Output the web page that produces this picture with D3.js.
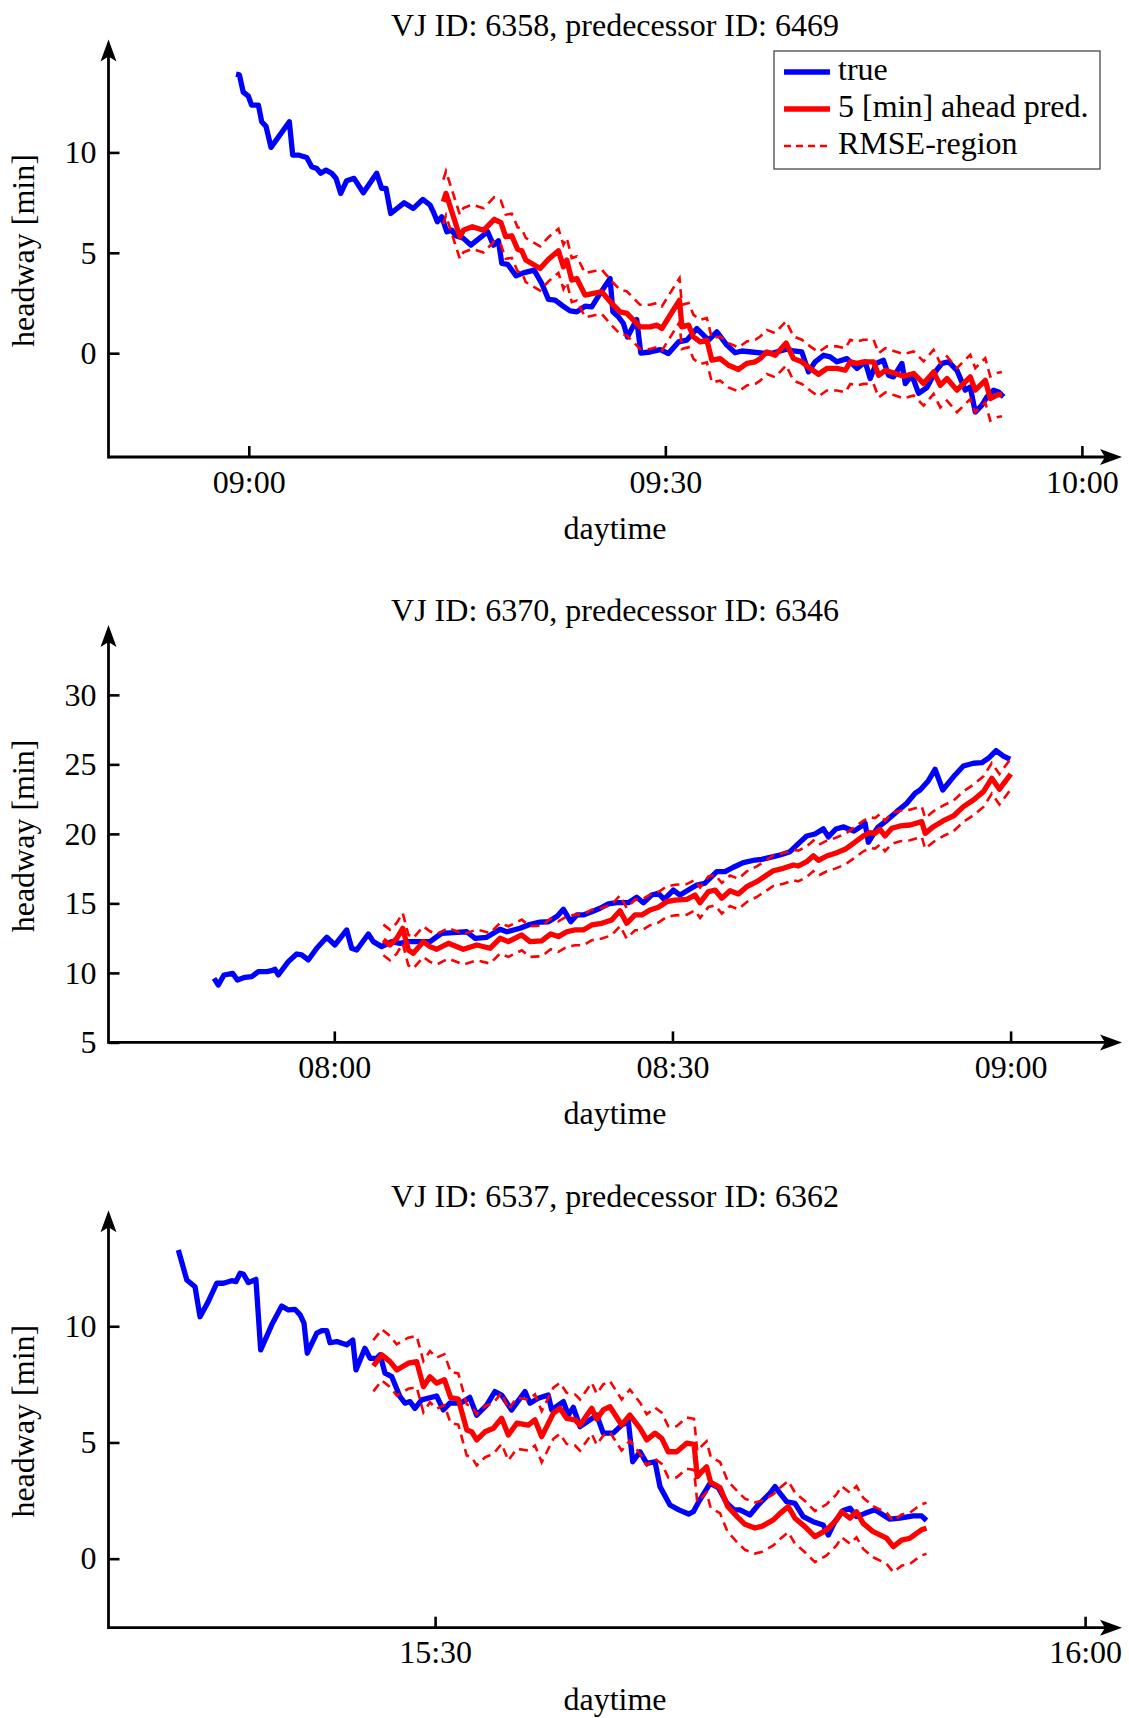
<!DOCTYPE html>
<html><head><meta charset="utf-8">
<script src="https://cdn.jsdelivr.net/npm/d3@7"></script>
<style>
body{margin:0;background:#fff;}
svg{display:block;}
text{font-family:"Liberation Serif","Times New Roman",serif;fill:#000;}
</style></head><body>
<svg id="c" width="1129" height="1718"></svg>
<script>
// ---------------- DATA ----------------
// times are minutes after the panel's base clock time; values are headway in minutes
const titles = ["VJ ID: 6358, predecessor ID: 6469","VJ ID: 6370, predecessor ID: 6346","VJ ID: 6537, predecessor ID: 6362"];
const baseTimes = ["09:00","08:00","15:30"];
const xTickLabels1 = ["09:00","09:30","10:00"];
const xTickLabels2 = ["08:00","08:30","09:00"];
const xTickLabels3 = ["15:30","16:00"];
const yTicks1 = [0,5,10];
const yTicks2 = [5,10,15,20,25,30];
const yTicks3 = [0,5,10];
const rmse = [1.1, 1.1, 1.1];
const legendLabels = ["true","5 [min] ahead pred.","RMSE-region"];
const xLabel = "daytime";
const yLabel = "headway [min]";

const true1 = [[-0.92,13.9],[-0.68,13.86],[-0.4,13.0],[-0.03,12.8],[0.2,12.36],[0.69,12.36],[0.93,11.53],[1.24,11.3],[1.6,10.25],[2.92,11.53],[3.16,9.87],[3.57,9.87],[4.17,9.75],[4.53,9.29],[4.89,9.2],[5.18,8.96],[5.56,9.12],[5.97,8.96],[6.28,8.71],[6.62,7.96],[7.05,8.59],[7.58,8.71],[8.25,7.99],[9.21,8.96],[9.57,8.21],[9.88,8.21],[10.22,6.96],[11.18,7.49],[11.85,7.21],[12.53,7.66],[13.05,7.38],[13.29,7.04],[13.58,6.55],[13.9,6.79],[14.26,6.05],[14.62,6.13],[14.9,5.85],[15.46,5.72],[15.99,5.38],[17.2,6.05],[17.62,5.38],[17.98,5.6],[18.22,4.47],[18.64,4.43],[19.25,3.85],[19.78,4.0],[20.55,4.14],[21.1,3.47],[21.58,2.68],[22.06,2.64],[22.54,2.39],[23.14,2.11],[23.62,2.06],[24.22,2.34],[24.7,2.31],[25.3,2.98],[26.02,3.72],[26.22,2.06],[26.62,1.81],[26.98,1.48],[27.27,0.81],[27.94,1.68],[28.23,0.01],[28.9,0.06],[29.63,0.18],[30.22,-0.02],[30.95,0.56],[31.55,0.65],[32.27,1.23],[33.11,0.65],[33.71,1.06],[34.43,0.4],[35.03,0.02],[35.51,0.11],[36.23,0.06],[37.0,0.0],[37.79,0.02],[38.75,0.2],[39.23,0.11],[39.83,0.06],[40.31,-0.93],[40.79,-0.43],[41.39,-0.1],[41.87,-0.18],[42.36,-0.43],[43.08,-0.27],[43.8,-0.76],[44.39,-0.43],[44.75,-1.26],[45.19,-0.51],[45.71,-0.35],[46.07,-1.1],[46.43,-1.18],[47.04,-0.51],[47.28,-1.51],[47.76,-1.1],[48.24,-2.0],[48.84,-1.71],[49.44,-0.93],[49.92,-0.51],[50.4,-0.43],[51.0,-0.85],[51.6,-1.84],[51.96,-1.68],[52.32,-2.93],[52.8,-2.59],[53.16,-2.18],[53.64,-1.84],[54.0,-1.93],[54.36,-2.18]];
const pred1 = [[14.01,7.54],[14.2,7.96],[15.2,5.8],[15.46,6.13],[16.1,6.3],[16.9,6.12],[17.68,6.67],[18.16,6.5],[18.5,5.8],[18.94,5.85],[19.36,5.18],[19.66,5.1],[19.95,4.64],[20.98,4.22],[21.58,4.68],[22.3,5.1],[22.66,4.3],[22.9,4.64],[23.26,3.64],[23.62,3.72],[24.22,2.89],[24.82,2.98],[25.42,3.06],[26.14,2.48],[26.74,2.06],[27.23,1.98],[28.18,1.31],[28.9,1.31],[29.39,1.4],[29.75,1.23],[30.34,1.89],[31.02,2.64],[31.19,1.31],[31.67,1.4],[32.03,0.81],[32.51,0.56],[32.99,0.65],[33.35,-0.35],[33.95,-0.27],[34.55,-0.6],[35.27,-0.81],[35.87,-0.51],[36.47,-0.43],[36.83,-0.27],[37.31,0.06],[37.91,-0.1],[38.7,0.5],[39.23,-0.27],[39.83,-0.43],[40.43,-0.76],[41.03,-1.05],[41.63,-0.76],[42.36,-0.76],[42.96,-0.85],[43.32,-0.43],[43.8,-0.51],[44.28,-0.43],[45.0,-0.43],[45.36,-1.1],[45.84,-0.85],[46.56,-1.01],[47.16,-1.15],[47.88,-1.01],[48.6,-1.51],[49.32,-0.93],[49.8,-1.6],[50.28,-1.26],[51.0,-1.84],[51.96,-1.18],[52.32,-1.84],[53.04,-1.35],[53.4,-2.26],[53.88,-2.09],[54.24,-2.04]];

const true2 = [[-10.67,9.61],[-10.29,9.13],[-9.79,9.85],[-9.02,9.97],[-8.6,9.49],[-7.92,9.68],[-7.33,9.73],[-6.74,10.09],[-6.0,10.09],[-5.56,10.16],[-5.26,10.26],[-4.97,9.85],[-4.08,10.81],[-3.34,11.36],[-2.89,11.29],[-2.31,10.93],[-1.56,11.77],[-0.67,12.56],[0.06,12.01],[1.1,13.09],[1.54,11.77],[1.99,11.65],[3.02,12.8],[3.46,12.25],[4.2,11.89],[5.09,12.25],[5.83,12.13],[6.57,12.25],[7.45,12.25],[8.49,12.25],[9.53,12.85],[10.56,12.89],[11.75,12.96],[12.48,12.49],[13.52,12.56],[14.7,13.14],[15.3,12.96],[16.48,13.21],[17.21,13.45],[18.25,13.65],[19.0,13.68],[19.8,14.1],[20.32,14.58],[20.98,13.68],[21.51,14.17],[22.09,14.17],[22.84,14.4],[23.58,14.65],[24.31,14.96],[25.06,15.05],[26.09,15.05],[26.83,15.44],[27.42,15.05],[28.16,15.6],[28.75,15.73],[29.26,15.29],[30.08,15.96],[30.67,15.6],[31.41,15.96],[32.16,16.32],[32.89,16.45],[33.93,17.28],[34.67,17.28],[35.4,17.6],[36.29,17.93],[37.33,18.12],[37.92,18.17],[38.95,18.36],[39.55,18.48],[40.43,18.72],[41.17,19.3],[41.91,19.85],[42.65,19.99],[43.39,20.36],[43.83,19.78],[44.5,20.35],[45.2,20.5],[46.1,20.2],[46.7,20.52],[47.09,20.76],[47.38,19.4],[48.2,20.45],[49.1,21.03],[49.9,21.6],[50.79,22.2],[51.53,22.92],[51.97,23.16],[52.71,23.83],[53.3,24.65],[53.98,23.16],[55.07,24.24],[55.81,24.88],[56.7,25.08],[57.44,25.12],[58.03,25.44],[58.71,25.99],[59.36,25.6],[59.96,25.37]];
const pred2 = [[4.35,12.37],[4.94,12.01],[5.54,12.49],[6.07,13.21],[6.57,11.65],[7.01,11.41],[7.9,12.25],[8.49,11.89],[9.08,11.7],[10.12,12.13],[11.45,11.7],[12.64,12.01],[13.82,11.77],[14.7,12.49],[15.44,12.25],[16.63,12.73],[17.36,12.25],[18.4,12.3],[19.2,12.8],[19.88,12.61],[20.62,12.96],[21.36,13.09],[22.09,13.09],[22.84,13.45],[23.73,13.57],[24.61,13.81],[25.35,14.47],[25.94,13.57],[26.68,14.17],[27.28,14.17],[28.01,14.53],[28.75,14.72],[29.49,15.12],[30.23,15.24],[31.27,15.29],[32.0,15.6],[32.45,15.05],[33.19,15.84],[33.78,15.96],[34.38,15.37],[35.11,15.91],[35.85,15.68],[36.59,16.2],[37.48,16.56],[38.37,17.04],[38.95,17.35],[39.84,17.52],[40.73,17.76],[41.17,17.69],[41.91,18.0],[42.5,18.42],[42.95,18.1],[43.69,18.41],[44.43,18.6],[45.31,18.89],[46.05,19.32],[46.94,19.85],[47.53,20.09],[47.97,20.04],[48.41,20.33],[48.86,19.85],[49.46,20.4],[50.2,20.57],[51.08,20.64],[52.12,20.88],[52.42,20.04],[53.15,20.52],[54.04,20.95],[54.93,21.29],[55.81,21.96],[56.7,22.44],[57.59,23.04],[58.33,24.0],[59.01,23.21],[59.51,23.76],[60.02,24.31]];

const true3 = [[-11.85,13.28],[-11.46,11.99],[-11.08,11.7],[-10.85,10.41],[-10.47,11.06],[-10.08,11.85],[-9.77,11.85],[-9.39,11.96],[-9.19,11.92],[-9.0,12.28],[-8.85,12.25],[-8.62,11.88],[-8.27,12.02],[-8.05,8.98],[-7.54,10.06],[-7.08,10.87],[-6.77,10.7],[-6.47,10.73],[-6.23,10.49],[-6.05,10.13],[-5.9,8.84],[-5.46,9.7],[-5.23,9.81],[-5.0,9.81],[-4.85,9.29],[-4.54,9.34],[-4.08,9.2],[-3.8,9.41],[-3.65,8.12],[-3.24,9.05],[-3.0,8.62],[-2.7,8.62],[-2.54,8.77],[-2.31,7.98],[-2.0,7.83],[-1.62,6.97],[-1.39,6.69],[-1.16,6.76],[-0.93,6.47],[-0.62,6.83],[0.07,7.0],[0.38,6.4],[0.69,6.7],[1.15,6.68],[1.6,6.94],[1.92,6.17],[2.38,6.61],[2.76,7.19],[3.07,7.04],[3.53,6.4],[4.15,7.19],[4.38,6.69],[4.76,6.9],[5.22,7.04],[5.38,6.4],[5.92,6.76],[6.15,6.18],[6.38,6.51],[6.69,5.68],[7.15,5.97],[7.46,6.18],[7.76,5.4],[8.22,5.4],[8.61,5.75],[8.92,5.9],[9.12,4.17],[9.46,4.6],[9.77,4.1],[10.15,4.17],[10.38,3.1],[10.84,2.31],[11.25,2.1],[11.7,1.92],[11.92,2.02],[12.2,2.5],[12.69,3.24],[13.07,3.06],[13.46,2.4],[13.8,2.1],[14.07,2.1],[14.53,1.88],[14.95,2.35],[15.45,2.81],[15.69,3.1],[15.92,2.81],[16.23,2.45],[16.61,2.38],[16.99,1.81],[17.45,1.59],[17.91,1.45],[18.15,1.02],[18.45,1.59],[18.84,2.07],[19.15,2.17],[19.45,1.81],[19.84,1.95],[20.3,2.1],[20.99,1.7],[21.45,1.74],[22.07,1.84],[22.45,1.84],[22.68,1.64]];
const pred3 = [[-2.85,8.3],[-2.46,8.77],[-2.08,8.48],[-1.77,8.12],[-1.24,8.41],[-0.85,8.48],[-0.54,7.4],[-0.24,7.83],[0.07,7.55],[0.43,7.7],[0.72,6.93],[1.07,6.87],[1.46,5.54],[1.69,5.46],[1.92,5.11],[2.3,5.46],[2.69,5.61],[3.07,6.04],[3.38,5.32],[3.77,5.83],[4.3,5.75],[4.61,5.97],[4.92,5.25],[5.46,6.26],[5.76,6.47],[6.07,6.04],[6.46,5.97],[6.69,5.75],[7.23,6.47],[7.46,6.0],[7.76,6.4],[8.07,6.54],[8.61,5.75],[8.99,6.18],[9.46,5.61],[9.77,5.11],[10.15,5.4],[10.46,5.18],[10.76,4.6],[11.15,4.6],[11.61,4.97],[11.95,4.92],[12.1,3.53],[12.3,3.74],[12.53,3.95],[12.72,3.28],[13.15,3.06],[13.5,2.25],[13.95,1.8],[14.3,1.48],[14.76,1.32],[15.1,1.4],[15.61,1.67],[15.92,1.95],[16.3,2.24],[16.61,1.74],[17.07,1.38],[17.53,0.95],[18.07,1.24],[18.53,1.67],[18.76,2.02],[19.15,1.74],[19.45,2.02],[19.76,1.52],[20.22,1.16],[20.84,0.88],[21.15,0.52],[21.53,0.8],[21.92,0.88],[22.22,1.09],[22.45,1.24],[22.68,1.31]];

// ---------------- LAYOUT ----------------
const W = 1129, FONT = 32;
const panels = [
  {title:titles[0], base:baseTimes[0], xt:xTickLabels1, yt:yTicks1, tr:true1, pr:pred1, rm:rmse[0],
   off:0, xr:[248.8,1081.9], yd:[-5.17,15.40], legend:true},
  {title:titles[1], base:baseTimes[1], xt:xTickLabels2, yt:yTicks2, tr:true2, pr:pred2, rm:rmse[1],
   off:585.4, xr:[334.3,1010.6], yd:[5,34.71], legend:false},
  {title:titles[2], base:baseTimes[2], xt:xTickLabels3, yt:yTicks3, tr:true3, pr:pred3, rm:rmse[2],
   off:1170.7, xr:[435.1,1085.1], yd:[-2.97,14.80], legend:false}
];
const AX0 = 108.5, AXEND = 1122, BOT = 457, TOP = 39.5, PLOTTOP = 44;

const parseT = d3.timeParse("%H:%M");
const svg = d3.select("#c");
svg.append("rect").attr("width",W).attr("height",1718).attr("fill","#fff");

panels.forEach(p => {
  const g = svg.append("g").attr("transform",`translate(0,${p.off})`);
  const base = parseT(p.base);
  const tickDates = p.xt.map(parseT);
  const toDate = m => new Date(base.getTime() + m*60000);
  const x = d3.scaleTime().domain([tickDates[0], tickDates[tickDates.length-1]]).range(p.xr);
  const y = d3.scaleLinear().domain(p.yd).range([BOT, PLOTTOP]);

  // title
  g.append("text").attr("x",615).attr("y",36).attr("text-anchor","middle")
    .attr("font-size",FONT).text(p.title);

  // axes
  const xa = g.append("g").attr("transform",`translate(0,${BOT})`)
    .call(d3.axisBottom(x).tickValues(tickDates).tickFormat(d3.timeFormat("%H:%M"))
      .tickSizeInner(-11).tickSizeOuter(0).tickPadding(13));
  const ya = g.append("g").attr("transform",`translate(${AX0},0)`)
    .call(d3.axisLeft(y).tickValues(p.yt).tickFormat(d3.format("d"))
      .tickSizeInner(-11).tickSizeOuter(0).tickPadding(12));
  [xa,ya].forEach(a=>{
    a.select(".domain").remove();
    a.selectAll(".tick line").attr("stroke","#000").attr("stroke-width",2.6);
    a.selectAll(".tick text").attr("font-size",FONT).attr("font-family",'"Liberation Serif",serif').attr("fill","#000");
  });
  g.append("line").attr("x1",AX0).attr("x2",AXEND-12).attr("y1",BOT).attr("y2",BOT)
    .attr("stroke","#000").attr("stroke-width",2.8);
  g.append("line").attr("x1",AX0).attr("x2",AX0).attr("y1",BOT+1.4).attr("y2",TOP+12)
    .attr("stroke","#000").attr("stroke-width",2.8);
  g.append("path").attr("d",`M${AXEND},${BOT} L${AXEND-22},${BOT-8} L${AXEND-17},${BOT} L${AXEND-22},${BOT+8} Z`).attr("fill","#000");
  g.append("path").attr("d",`M${AX0},${TOP} L${AX0+8},${TOP+22} L${AX0},${TOP+17} L${AX0-8},${TOP+22} Z`).attr("fill","#000");

  // labels
  g.append("text").attr("x",615).attr("y",539).attr("text-anchor","middle")
    .attr("font-size",FONT).text(xLabel);
  g.append("text").attr("transform",`translate(34,${(BOT+PLOTTOP)/2}) rotate(-90)`)
    .attr("text-anchor","middle").attr("font-size",FONT).text(yLabel);

  const line = d3.line().x(d=>x(toDate(d[0]))).y(d=>y(d[1]));
  const upper = p.pr.map(d=>[d[0], d[1]+p.rm]);
  const lower = p.pr.map(d=>[d[0], d[1]-p.rm]);

  g.append("path").datum(p.tr).attr("d",line).attr("fill","none")
    .attr("stroke","#0000ff").attr("stroke-width",5.3).attr("stroke-linejoin","round");
  g.append("path").datum(p.pr).attr("d",line).attr("fill","none")
    .attr("stroke","#ff0000").attr("stroke-width",5.3).attr("stroke-linejoin","round");
  [upper,lower].forEach(b=>{
    g.append("path").datum(b).attr("d",line).attr("fill","none")
      .attr("stroke","#ff0000").attr("stroke-width",2.6).attr("stroke-dasharray","9,6");
  });

  if (p.legend) {
    const lg = g.append("g");
    lg.append("rect").attr("x",774).attr("y",51).attr("width",326).attr("height",118)
      .attr("fill","#fff").attr("stroke","#555").attr("stroke-width",1.4);
    const styles = [{c:"#0000ff",w:5.3,d:null},{c:"#ff0000",w:5.3,d:null},{c:"#ff0000",w:2.6,d:"7,5"}];
    legendLabels.forEach((lab,i)=>{
      const by = 80 + i*37;
      lg.append("line").attr("x1",784).attr("x2",830).attr("y1",by-8).attr("y2",by-8)
        .attr("stroke",styles[i].c).attr("stroke-width",styles[i].w)
        .attr("stroke-dasharray",styles[i].d);
      lg.append("text").attr("x",838).attr("y",by).attr("font-size",FONT).text(lab);
    });
  }
});
</script>
</body></html>
